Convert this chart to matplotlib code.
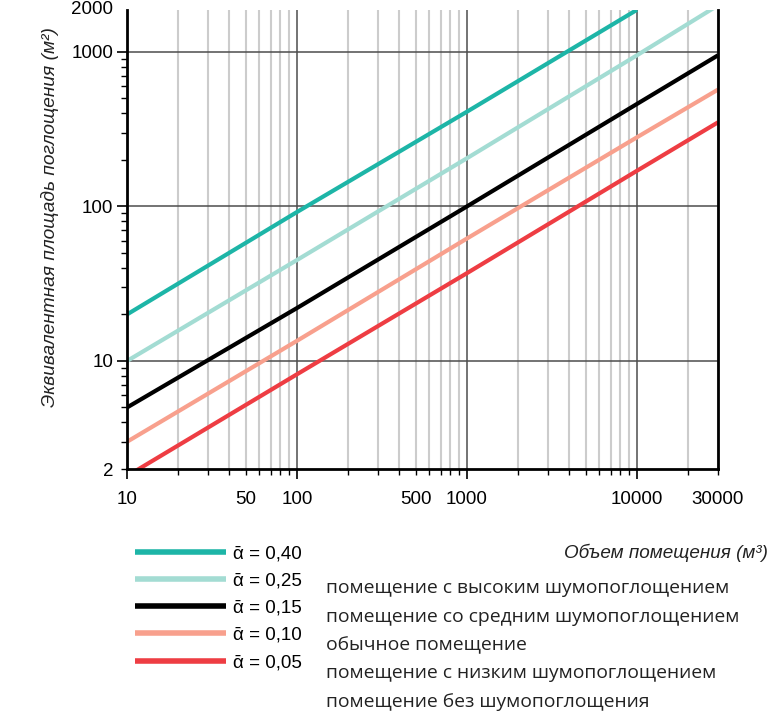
import numpy as np
import matplotlib.pyplot as plt
from matplotlib.ticker import LogLocator, FuncFormatter

# absorption curves, values (volume m3 -> area m2)
v_040 = [10, 100, 1000, 10000]
a_040 = [20, 92, 410, 1870]
v_025 = [10, 100, 1000, 10000, 30000]
a_025 = [10, 45, 205, 950, 2000]
v_015 = [10, 100, 1000, 10000, 30000]
a_015 = [5, 22, 100, 460, 950]
v_010 = [10, 100, 1000, 10000, 30000]
a_010 = [3, 13.5, 62, 280, 570]
v_005 = [10, 100, 1000, 10000, 30000]
a_005 = [1.8, 8.2, 37, 170, 350]

labels = ['ᾱ = 0,40', 'ᾱ = 0,25', 'ᾱ = 0,15', 'ᾱ = 0,10', 'ᾱ = 0,05']
colors = ['#1db5a7', '#a3dcd3', '#000000', '#f8a08d', '#ee3d43']
rooms = ['помещение с высоким шумопоглощением',
         'помещение со средним шумопоглощением',
         'обычное помещение',
         'помещение с низким шумопоглощением',
         'помещение без шумопоглощения']

x_labels = [10, 50, 100, 500, 1000, 10000, 30000]
y_labels = [2, 10, 100, 1000]

plt.rcParams['font.family'] = ['Liberation Sans', 'DejaVu Sans']

fig = plt.figure(figsize=(7.72, 7.12), dpi=100)
ax = fig.add_axes([127/772, 1-469/712, 591/772, 459/712])

series = [(v_040, a_040), (v_025, a_025), (v_015, a_015), (v_010, a_010), (v_005, a_005)]
handles = []
for (v, a), c, lab in zip(series, colors, labels):
    h, = ax.plot(v, a, color=c, lw=3.0, label=lab, solid_capstyle='butt', zorder=3)
    handles.append(h)

ax.set_xscale('log')
ax.set_yscale('log')
ax.set_xlim(10, 30000)
ax.set_ylim(2, 1866)

ax.xaxis.set_major_locator(LogLocator(base=10))
ax.xaxis.set_minor_locator(LogLocator(base=10, subs=np.arange(2, 10)))
ax.yaxis.set_major_locator(LogLocator(base=10))
ax.yaxis.set_minor_locator(LogLocator(base=10, subs=np.arange(2, 10)))

fx = FuncFormatter(lambda x, p: str(int(round(x))) if int(round(x)) in x_labels else '')
fy = FuncFormatter(lambda y, p: str(int(round(y))) if int(round(y)) in y_labels else '')
ax.xaxis.set_major_formatter(fx)
ax.xaxis.set_minor_formatter(fx)
ax.yaxis.set_major_formatter(fy)
ax.yaxis.set_minor_formatter(fy)

ax.tick_params(axis='both', which='major', length=7, width=1.2, labelsize=13.5, pad=3)
ax.tick_params(axis='both', which='minor', length=4, width=1.0, labelsize=13.5, pad=6)
ax.tick_params(axis='x', which='major', pad=9)
ax.tick_params(axis='x', which='minor', pad=12)

ax.grid(True, which='major', color='#4d4d4d', lw=1.1, zorder=1)
ax.grid(True, which='minor', axis='x', color='#cccccc', lw=1.5, zorder=0)

ax.spines['top'].set_visible(False)
for s in ['left', 'bottom', 'right']:
    ax.spines[s].set_linewidth(2)
    ax.spines[s].set_zorder(4)

# top label cut off by the frame
ax.annotate('2000', xy=(0, 2000), xycoords=('axes fraction', 'data'),
            xytext=(-10, -3), textcoords='offset points', ha='right', va='center',
            fontsize=13.5, annotation_clip=False)

narrow = ['Liberation Sans Narrow', 'Liberation Sans', 'DejaVu Sans']
ax.set_ylabel('Эквивалентная площадь поглощения (м²)', fontsize=13.8, style='italic',
              family=narrow, color='#222222')
ax.yaxis.set_label_coords(-0.115, 0.549)
ax.set_xlabel('Объем помещения (м³)', fontsize=13.6, style='italic', family=narrow,
              color='#222222', ha='right', va='center')
ax.xaxis.set_label_coords((768-127)/591, -(553-469)/459)

fig.legend(handles=handles, labels=labels, loc='upper left',
           bbox_to_anchor=(135/772, 1-545/712), frameon=False, fontsize=13.5,
           handlelength=4.85, handletextpad=0.37, labelspacing=0.54,
           borderpad=0, borderaxespad=0)
for lh in fig.legends[0].get_lines():
    lh.set_linewidth(4)

for i, r in enumerate(rooms):
    fig.text(326/772, 1-(593+28.5*i)/712, r, fontsize=13.9, family=['Open Sans', 'DejaVu Sans'],
             color='#222222', ha='left', va='baseline')

fig.savefig('out.png', dpi=100)
